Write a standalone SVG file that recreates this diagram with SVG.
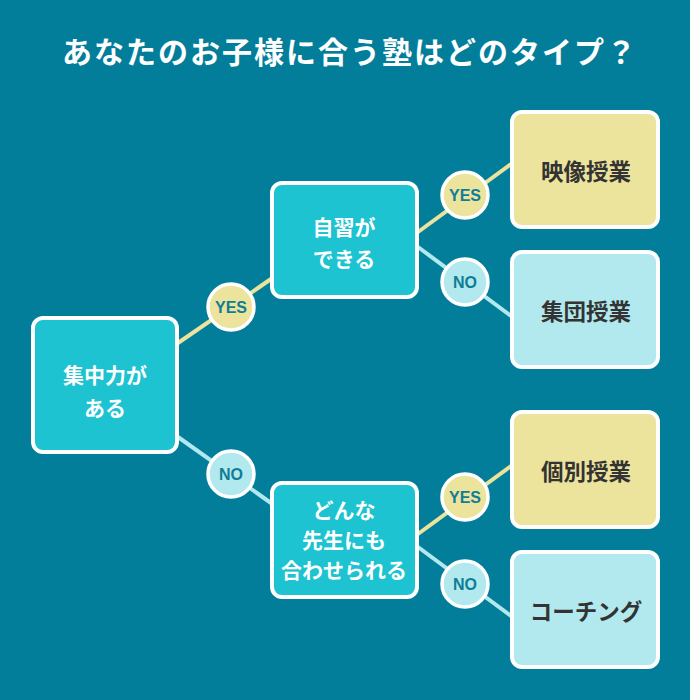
<svg xmlns="http://www.w3.org/2000/svg" width="690" height="700" viewBox="0 0 690 700">
<style>
.bg{fill:#037e9a}
.q{fill:#1dc3d0;stroke:#fff;stroke-width:4}
.y{fill:#ece39c;stroke:#fff;stroke-width:4}
.n{fill:#b1e9ee;stroke:#fff;stroke-width:4}
.cy{fill:#ece39c;stroke:#fff;stroke-width:3.5}
.cn{fill:#b1e9ee;stroke:#fff;stroke-width:3.5}
.ly{stroke:#ece39c;stroke-width:4;fill:none}
.ln{stroke:#b1e9ee;stroke-width:4;fill:none}
.t{font-family:"Noto Sans CJK JP","Noto Sans",sans-serif;font-weight:bold;text-anchor:middle}
.qt{fill:#fff;font-size:21px}
.rt{fill:#333;font-size:22.5px}
.ct{font-family:"Liberation Sans","Noto Sans",sans-serif;font-weight:bold;font-size:16px;fill:#107d97;text-anchor:middle}
.title{fill:#fff;font-size:30px;letter-spacing:2px}
</style>
<rect class="bg" x="0" y="0" width="690" height="700"/>
<text class="t title" x="350" y="63">あなたのお子様に合う塾はどのタイプ？</text>
<g id="connectors">
<line class="ly" x1="178" y1="343" x2="271" y2="279"/>
<line class="ln" x1="178" y1="437" x2="271" y2="503"/>
<line class="ly" x1="418" y1="232" x2="511" y2="164"/>
<line class="ln" x1="418" y1="247" x2="511" y2="316"/>
<line class="ly" x1="418" y1="534" x2="511" y2="466"/>
<line class="ln" x1="418" y1="547" x2="511" y2="616"/>
</g>
<g id="q1">
<rect class="q" x="33" y="318" width="144" height="134" rx="10"/>
<text class="t qt" x="105" y="383">集中力が</text>
<text class="t qt" x="105" y="416">ある</text>
</g>
<g id="q2">
<rect class="q" x="272" y="183" width="145" height="114" rx="10"/>
<text class="t qt" x="344" y="235">自習が</text>
<text class="t qt" x="344" y="267">できる</text>
</g>
<g id="q3">
<rect class="q" x="272" y="483" width="145" height="114" rx="10"/>
<text class="t qt" x="344" y="518">どんな</text>
<text class="t qt" x="344" y="548">先生にも</text>
<text class="t qt" x="344" y="578">合わせられる</text>
</g>
<g id="r1">
<rect class="y" x="512" y="112" width="146" height="115" rx="10"/>
<text class="t rt" x="586" y="180">映像授業</text>
</g>
<g id="r2">
<rect class="n" x="512" y="252" width="146" height="115" rx="10"/>
<text class="t rt" x="586" y="320">集団授業</text>
</g>
<g id="r3">
<rect class="y" x="512" y="412" width="146" height="115" rx="10"/>
<text class="t rt" x="586" y="480">個別授業</text>
</g>
<g id="r4">
<rect class="n" x="512" y="552" width="146" height="115" rx="10"/>
<text class="t rt" x="586" y="620">コーチング</text>
</g>
<g id="c1"><circle class="cy" cx="231" cy="307" r="23"/><text class="ct" x="231" y="313">YES</text></g>
<g id="c2"><circle class="cn" cx="231" cy="474" r="23"/><text class="ct" x="231" y="480">NO</text></g>
<g id="c3"><circle class="cy" cx="465" cy="195" r="23"/><text class="ct" x="465" y="201">YES</text></g>
<g id="c4"><circle class="cn" cx="465" cy="282" r="23"/><text class="ct" x="465" y="288">NO</text></g>
<g id="c5"><circle class="cy" cx="465" cy="497" r="23"/><text class="ct" x="465" y="503">YES</text></g>
<g id="c6"><circle class="cn" cx="465" cy="584" r="23"/><text class="ct" x="465" y="590">NO</text></g>
</svg>
